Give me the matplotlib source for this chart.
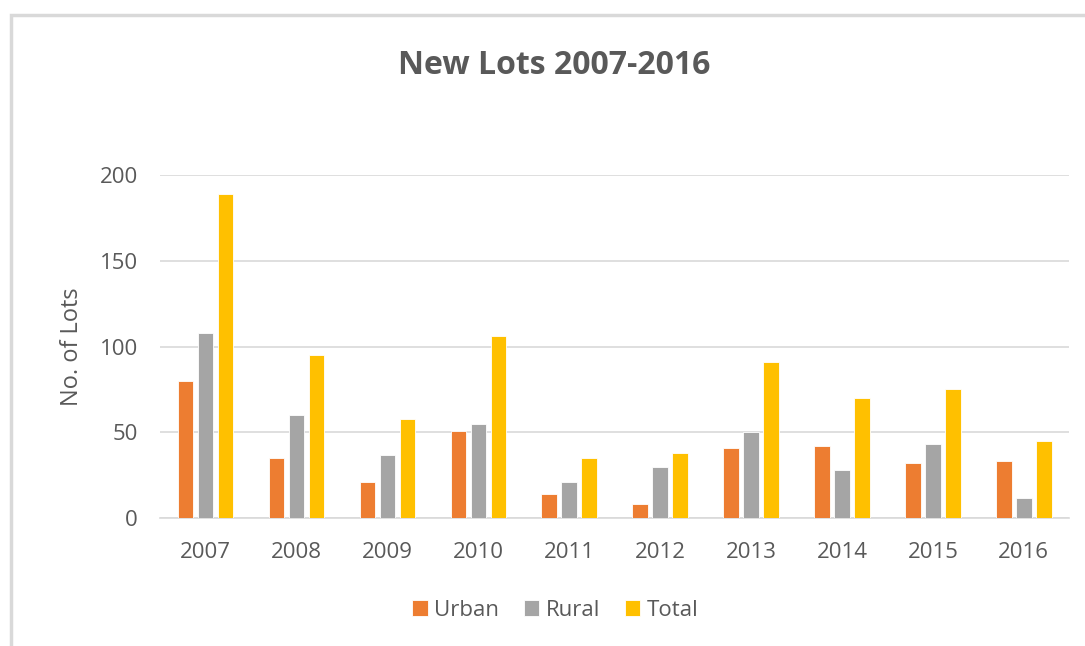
import numpy as np
import matplotlib.pyplot as plt
from matplotlib.patches import Rectangle

years = ['2007', '2008', '2009', '2010', '2011', '2012', '2013', '2014', '2015', '2016']
urban = [80, 35, 21, 51, 14, 8, 41, 42, 32, 33]
rural = [108, 60, 37, 55, 21, 30, 50, 28, 43, 12]
total = [189, 95, 58, 106, 35, 38, 91, 70, 75, 45]

series = [('Urban', urban, '#ED7D31'), ('Rural', rural, '#A5A5A5'), ('Total', total, '#FFC000')]
text_col = '#595959'

plt.rcParams['font.family'] = ['Open Sans', 'DejaVu Sans']

fig = plt.figure(figsize=(10.85, 6.46), dpi=100)
ax = fig.add_axes([0.1475, 0.198, 0.838, 0.531])

x = np.arange(len(years))
w = 0.17
step = 0.22
for i, (name, vals, col) in enumerate(series):
    ax.bar(x + (i - 1) * step, vals, width=w, color=col, label=name,
           edgecolor='white', linewidth=0.6, zorder=3)

ax.set_xlim(-0.5, len(years) - 0.5)
ax.set_ylim(0, 200)
ax.set_yticks([0, 50, 100, 150, 200])
ax.set_xticks(x)
ax.set_xticklabels(years)
ax.grid(axis='y', color='#D9D9D9', linewidth=1.2, zorder=0)
for s in ['top', 'right', 'left']:
    ax.spines[s].set_visible(False)
ax.spines['bottom'].set_color('#D9D9D9')
ax.spines['bottom'].set_linewidth(1.2)
ax.tick_params(axis='both', length=0, labelsize=16, colors=text_col)
ax.tick_params(axis='x', pad=17)
ax.tick_params(axis='y', pad=16)
ax.set_ylabel('No. of Lots', fontsize=17, color=text_col, labelpad=11)

fig.text(0.511, 0.899, 'New Lots 2007-2016', ha='center', va='center',
         fontsize=23, fontweight='bold', color=text_col)

leg = fig.legend(loc='center', bbox_to_anchor=(0.512, 0.055), ncol=3, frameon=False,
                 fontsize=16, handlelength=0.7, handleheight=0.7, handletextpad=0.3,
                 columnspacing=1.1)
for t in leg.get_texts():
    t.set_color(text_col)

# outer chart frame
fig.patches.append(Rectangle((11 / 1085, -0.05), 1.1, 0.05 + (646 - 15) / 646,
                             transform=fig.transFigure, fill=False,
                             edgecolor='#D9D9D9', linewidth=2.5))

fig.savefig('out.png', dpi=100)
